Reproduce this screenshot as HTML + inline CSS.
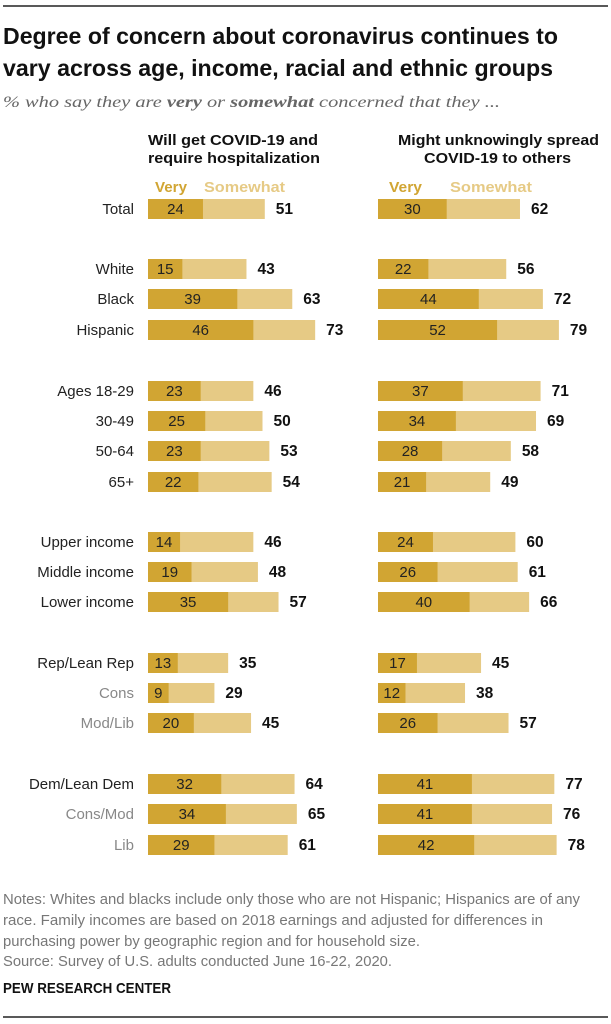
<!DOCTYPE html>
<html><head><meta charset="utf-8"><style>
body{margin:0;background:#fff;}
svg{display:block;font-family:"Liberation Sans",Arial,sans-serif;}
</style></head><body>
<svg id="c" width="611" height="1024" viewBox="0 0 611 1024">
<line x1="3" y1="6" x2="608" y2="6" stroke="#222" stroke-width="1.5"/>
<text x="3" y="44" font-size="23" font-weight="bold" fill="#111" textLength="555" lengthAdjust="spacingAndGlyphs">Degree of concern about coronavirus continues to</text>
<text x="3" y="76" font-size="23" font-weight="bold" fill="#111" textLength="550" lengthAdjust="spacingAndGlyphs">vary across age, income, racial and ethnic groups</text>
<text x="3" y="107" font-size="16" font-style="italic" fill="#666" font-family="Liberation Serif,serif" textLength="497" lengthAdjust="spacingAndGlyphs">% who say they are <tspan font-weight="bold">very</tspan> or <tspan font-weight="bold">somewhat</tspan> concerned that they ...</text>
<text x="148" y="145" font-size="14.5" font-weight="bold" fill="#111" textLength="170" lengthAdjust="spacingAndGlyphs">Will get COVID-19 and</text>
<text x="148" y="163" font-size="14.5" font-weight="bold" fill="#111" textLength="172" lengthAdjust="spacingAndGlyphs">require hospitalization</text>
<text x="398" y="145" font-size="14.5" font-weight="bold" fill="#111" textLength="201" lengthAdjust="spacingAndGlyphs">Might unknowingly spread</text>
<text x="424" y="163" font-size="14.5" font-weight="bold" fill="#111" textLength="147" lengthAdjust="spacingAndGlyphs">COVID-19 to others</text>
<text x="155" y="192" font-size="14.5" font-weight="bold" fill="#D1A533" textLength="32" lengthAdjust="spacingAndGlyphs">Very</text>
<text x="204" y="192" font-size="14.5" font-weight="bold" fill="#E6CA85" textLength="81" lengthAdjust="spacingAndGlyphs">Somewhat</text>
<text x="389" y="192" font-size="14.5" font-weight="bold" fill="#D1A533" textLength="33" lengthAdjust="spacingAndGlyphs">Very</text>
<text x="450" y="192" font-size="14.5" font-weight="bold" fill="#E6CA85" textLength="82" lengthAdjust="spacingAndGlyphs">Somewhat</text>
<g id="bars"></g>
<g font-size="14.5" fill="#777">
<text x="3" y="904" textLength="577" lengthAdjust="spacingAndGlyphs">Notes: Whites and blacks include only those who are not Hispanic; Hispanics are of any</text>
<text x="3" y="925" textLength="540" lengthAdjust="spacingAndGlyphs">race. Family incomes are based on 2018 earnings and adjusted for differences in</text>
<text x="3" y="946" textLength="417" lengthAdjust="spacingAndGlyphs">purchasing power by geographic region and for household size.</text>
<text x="3" y="966" textLength="389" lengthAdjust="spacingAndGlyphs">Source: Survey of U.S. adults conducted June 16-22, 2020.</text>
</g>
<text x="3" y="993" font-size="15" font-weight="bold" fill="#111" textLength="168" lengthAdjust="spacingAndGlyphs">PEW RESEARCH CENTER</text>
<line x1="3" y1="1017" x2="608" y2="1017" stroke="#222" stroke-width="1.5"/>
</svg>
<script>
const categories=["Total","White","Black","Hispanic","Ages 18-29","30-49","50-64","65+","Upper income","Middle income","Lower income","Rep/Lean Rep","Cons","Mod/Lib","Dem/Lean Dem","Cons/Mod","Lib"];
const subRows=[12,13,15,16];
const rowY=[209,269,299,330,391,421,451,482,542,572,602,663,693,723,784,814,845];
const hospVery=[24,15,39,46,23,25,23,22,14,19,35,13,9,20,32,34,29];
const hospTotal=[51,43,63,73,46,50,53,54,46,48,57,35,29,45,64,65,61];
const spreadVery=[30,22,44,52,37,34,28,21,24,26,40,17,12,26,41,41,42];
const spreadTotal=[62,56,72,79,71,69,58,49,60,61,66,45,38,57,77,76,78];
const K=2.29;
const xL=v=>148+v*K, xR=v=>378+v*K;
const g=document.getElementById('bars');
const NS='http://www.w3.org/2000/svg';
function mk(t,a){const e=document.createElementNS(NS,t);for(const k in a)e.setAttribute(k,a[k]);g.appendChild(e);return e;}
categories.forEach((c,i)=>{
  const y=rowY[i];
  const lab=mk('text',{x:134,y:y+5,'font-size':15,'text-anchor':'end',fill:subRows.includes(i)?'#888':'#222'});
  lab.textContent=c;
  
  
  [[xL,hospVery,hospTotal,'hosp'],[xR,spreadVery,spreadTotal,'spread']].forEach(([sx,V,T,n])=>{
    const x0=sx(0);
    const r2=mk('rect',{x:x0,y:y-10,width:sx(T[i])-x0,height:20,fill:'#E6CA85'});
    
    
    const r1=mk('rect',{x:x0,y:y-10,width:sx(V[i])-x0,height:20,fill:'#D1A533'});
    
    
    const tv=mk('text',{x:(x0+sx(V[i]))/2,y:y+5,'font-size':15,'text-anchor':'middle',fill:'#222'});
    tv.textContent=V[i];
    
    
    const tt=mk('text',{x:sx(T[i])+11,y:y+5,'font-size':15.5,'font-weight':'bold',fill:'#111'});
    tt.textContent=T[i];
    
    
  });
});
</script>
</body></html>
